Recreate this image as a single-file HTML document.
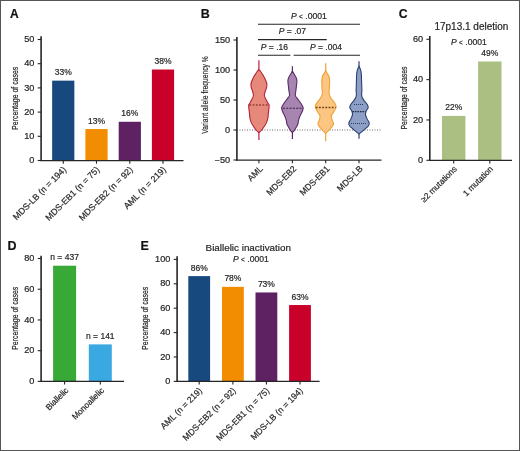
<!DOCTYPE html>
<html><head><meta charset="utf-8"><style>
html,body{margin:0;padding:0;background:#fff;}
svg{display:block;will-change:transform;}
text{font-family:"Liberation Sans", sans-serif;stroke:#262626;stroke-width:0.2px;}
</style></head><body>
<svg width="520" height="451" viewBox="0 0 520 451" font-family='"Liberation Sans", sans-serif'>
<rect x="0" y="0" width="520" height="451" fill="#fff"/>
<text x="10.00" y="18.00" font-size="12" text-anchor="start" fill="#111" font-weight="bold" font-style="normal" >A</text>
<rect x="52.15" y="80.64" width="22.20" height="79.86" fill="#17497f"/>
<text x="63.25" y="75.14" font-size="8.5" text-anchor="middle" fill="#262626" font-weight="normal" font-style="normal" >33%</text>
<rect x="85.40" y="129.04" width="22.20" height="31.46" fill="#f28c00"/>
<text x="96.50" y="123.54" font-size="8.5" text-anchor="middle" fill="#262626" font-weight="normal" font-style="normal" >13%</text>
<rect x="118.70" y="121.78" width="22.20" height="38.72" fill="#5e2162"/>
<text x="129.80" y="116.28" font-size="8.5" text-anchor="middle" fill="#262626" font-weight="normal" font-style="normal" >16%</text>
<rect x="151.90" y="69.51" width="22.20" height="90.99" fill="#c8002a"/>
<text x="163.00" y="64.01" font-size="8.5" text-anchor="middle" fill="#262626" font-weight="normal" font-style="normal" >38%</text>
<line x1="41.10" y1="36.30" x2="41.10" y2="161.12" stroke="#262626" stroke-width="1.6"/>
<line x1="37.70" y1="39.50" x2="41.10" y2="39.50" stroke="#262626" stroke-width="1.1" />
<text transform="translate(34.40 42.10) scale(1.08 1)" font-size="8.5" text-anchor="end" fill="#262626" font-weight="normal" font-style="normal" >50</text>
<line x1="37.70" y1="63.70" x2="41.10" y2="63.70" stroke="#262626" stroke-width="1.1" />
<text transform="translate(34.40 66.30) scale(1.08 1)" font-size="8.5" text-anchor="end" fill="#262626" font-weight="normal" font-style="normal" >40</text>
<line x1="37.70" y1="87.90" x2="41.10" y2="87.90" stroke="#262626" stroke-width="1.1" />
<text transform="translate(34.40 90.50) scale(1.08 1)" font-size="8.5" text-anchor="end" fill="#262626" font-weight="normal" font-style="normal" >30</text>
<line x1="37.70" y1="112.10" x2="41.10" y2="112.10" stroke="#262626" stroke-width="1.1" />
<text transform="translate(34.40 114.70) scale(1.08 1)" font-size="8.5" text-anchor="end" fill="#262626" font-weight="normal" font-style="normal" >20</text>
<line x1="37.70" y1="136.30" x2="41.10" y2="136.30" stroke="#262626" stroke-width="1.1" />
<text transform="translate(34.40 138.90) scale(1.08 1)" font-size="8.5" text-anchor="end" fill="#262626" font-weight="normal" font-style="normal" >10</text>
<line x1="37.70" y1="160.50" x2="41.10" y2="160.50" stroke="#262626" stroke-width="1.1" />
<text transform="translate(34.40 163.10) scale(1.08 1)" font-size="8.5" text-anchor="end" fill="#262626" font-weight="normal" font-style="normal" >0</text>
<line x1="40.30" y1="160.50" x2="183.50" y2="160.50" stroke="#262626" stroke-width="1.25" />
<line x1="63.25" y1="160.50" x2="63.25" y2="163.70" stroke="#262626" stroke-width="1.1" />
<line x1="96.50" y1="160.50" x2="96.50" y2="163.70" stroke="#262626" stroke-width="1.1" />
<line x1="129.80" y1="160.50" x2="129.80" y2="163.70" stroke="#262626" stroke-width="1.1" />
<line x1="163.00" y1="160.50" x2="163.00" y2="163.70" stroke="#262626" stroke-width="1.1" />
<text class="rt" id="rt1" transform="translate(18.00 98.30) rotate(-90) scale(0.77 1)" font-size="9" text-anchor="middle" fill="#262626">Percentage of cases</text>
<text class="rt" id="rt2" transform="translate(66.85 170.20) rotate(-45) scale(1.0 1)" font-size="8.8" text-anchor="end" fill="#262626">MDS-LB (n = 194)</text>
<text class="rt" id="rt3" transform="translate(100.10 170.20) rotate(-45) scale(1.0 1)" font-size="8.8" text-anchor="end" fill="#262626">MDS-EB1 (n = 75)</text>
<text class="rt" id="rt4" transform="translate(133.40 170.20) rotate(-45) scale(1.0 1)" font-size="8.8" text-anchor="end" fill="#262626">MDS-EB2 (n = 92)</text>
<text class="rt" id="rt5" transform="translate(166.60 170.20) rotate(-45) scale(1.0 1)" font-size="8.8" text-anchor="end" fill="#262626">AML (n = 219)</text>
<text x="200.70" y="18.30" font-size="12.5" text-anchor="start" fill="#111" font-weight="bold" font-style="normal" >B</text>
<line x1="237.00" y1="130.00" x2="381.50" y2="130.00" stroke="#555" stroke-width="0.9" stroke-dasharray="1 1.5"/>
<line x1="258.90" y1="60.20" x2="258.90" y2="70.60" stroke="#b5223a" stroke-width="1.2" />
<line x1="258.90" y1="131.60" x2="258.90" y2="140.00" stroke="#b5223a" stroke-width="1.2" />
<path d="M258.90,69.60 C259.20,69.92 260.17,70.82 260.70,71.50 C261.23,72.18 261.45,72.63 262.10,73.70 C262.75,74.77 263.83,76.33 264.60,77.90 C265.37,79.47 266.37,81.53 266.70,83.10 C267.03,84.67 266.85,85.90 266.60,87.30 C266.35,88.70 265.57,90.10 265.20,91.50 C264.83,92.90 264.23,94.32 264.40,95.70 C264.57,97.08 265.63,98.58 266.20,99.80 C266.77,101.02 267.32,102.13 267.80,103.00 C268.28,103.87 268.92,104.07 269.10,105.00 C269.28,105.93 269.03,107.13 268.90,108.60 C268.77,110.07 268.47,112.23 268.30,113.80 C268.13,115.37 268.17,116.62 267.90,118.00 C267.63,119.38 267.28,120.72 266.70,122.10 C266.12,123.48 265.30,124.90 264.40,126.30 C263.50,127.70 262.22,129.45 261.30,130.50 C260.38,131.55 259.30,132.25 258.90,132.60 C258.50,132.25 257.42,131.55 256.50,130.50 C255.58,129.45 254.30,127.70 253.40,126.30 C252.50,124.90 251.68,123.48 251.10,122.10 C250.52,120.72 250.17,119.38 249.90,118.00 C249.63,116.62 249.67,115.37 249.50,113.80 C249.33,112.23 249.03,110.07 248.90,108.60 C248.77,107.13 248.52,105.93 248.70,105.00 C248.88,104.07 249.52,103.87 250.00,103.00 C250.48,102.13 251.03,101.02 251.60,99.80 C252.17,98.58 253.23,97.08 253.40,95.70 C253.57,94.32 252.97,92.90 252.60,91.50 C252.23,90.10 251.45,88.70 251.20,87.30 C250.95,85.90 250.77,84.67 251.10,83.10 C251.43,81.53 252.43,79.47 253.20,77.90 C253.97,76.33 255.05,74.77 255.70,73.70 C256.35,72.63 256.57,72.18 257.10,71.50 C257.63,70.82 258.60,69.92 258.90,69.60Z" fill="#e6887a" stroke="#b5223a" stroke-width="1.1"/>
<line x1="249.30" y1="105.0" x2="268.50" y2="105.0" stroke="#6a1818" stroke-width="1.2" stroke-dasharray="1.8 1.5"/>
<line x1="292.40" y1="66.30" x2="292.40" y2="72.00" stroke="#5a2a68" stroke-width="1.2" />
<line x1="292.40" y1="131.40" x2="292.40" y2="139.10" stroke="#5a2a68" stroke-width="1.2" />
<path d="M292.40,71.00 C292.73,71.60 293.77,73.48 294.40,74.60 C295.03,75.72 295.78,76.65 296.20,77.70 C296.62,78.75 296.87,79.50 296.90,80.90 C296.93,82.30 296.58,84.37 296.40,86.10 C296.22,87.83 295.98,89.73 295.80,91.30 C295.62,92.87 295.03,94.28 295.30,95.50 C295.57,96.72 296.53,97.38 297.40,98.60 C298.27,99.82 299.63,101.48 300.50,102.80 C301.37,104.12 302.15,105.57 302.60,106.50 C303.05,107.43 303.33,107.40 303.20,108.40 C303.07,109.40 302.38,111.12 301.80,112.50 C301.22,113.88 300.27,115.30 299.70,116.70 C299.13,118.10 298.70,119.68 298.40,120.90 C298.10,122.12 298.25,122.97 297.90,124.00 C297.55,125.03 296.88,126.05 296.30,127.10 C295.72,128.15 295.05,129.42 294.40,130.30 C293.75,131.18 292.73,132.05 292.40,132.40 C292.07,132.05 291.05,131.18 290.40,130.30 C289.75,129.42 289.08,128.15 288.50,127.10 C287.92,126.05 287.25,125.03 286.90,124.00 C286.55,122.97 286.70,122.12 286.40,120.90 C286.10,119.68 285.67,118.10 285.10,116.70 C284.53,115.30 283.58,113.88 283.00,112.50 C282.42,111.12 281.73,109.40 281.60,108.40 C281.47,107.40 281.75,107.43 282.20,106.50 C282.65,105.57 283.43,104.12 284.30,102.80 C285.17,101.48 286.53,99.82 287.40,98.60 C288.27,97.38 289.23,96.72 289.50,95.50 C289.77,94.28 289.18,92.87 289.00,91.30 C288.82,89.73 288.58,87.83 288.40,86.10 C288.22,84.37 287.87,82.30 287.90,80.90 C287.93,79.50 288.18,78.75 288.60,77.70 C289.02,76.65 289.77,75.72 290.40,74.60 C291.03,73.48 292.07,71.60 292.40,71.00Z" fill="#a685b0" stroke="#5a2a68" stroke-width="1.1"/>
<line x1="283.00" y1="108.2" x2="301.80" y2="108.2" stroke="#3a1a40" stroke-width="1.1" stroke-dasharray="2 1.3"/>
<line x1="325.70" y1="63.20" x2="325.70" y2="71.50" stroke="#eea235" stroke-width="1.2" />
<line x1="325.70" y1="132.40" x2="325.70" y2="141.20" stroke="#eea235" stroke-width="1.2" />
<path d="M325.70,70.50 C326.00,71.03 326.93,72.65 327.50,73.70 C328.07,74.75 328.75,75.58 329.10,76.80 C329.45,78.02 329.55,79.27 329.60,81.00 C329.65,82.73 329.48,85.12 329.40,87.20 C329.32,89.28 328.88,91.75 329.10,93.50 C329.32,95.25 329.92,96.32 330.70,97.70 C331.48,99.08 333.02,100.67 333.80,101.80 C334.58,102.93 335.02,103.58 335.40,104.50 C335.78,105.42 336.33,106.13 336.10,107.30 C335.87,108.47 334.78,110.10 334.00,111.50 C333.22,112.90 331.73,114.32 331.40,115.70 C331.07,117.08 331.65,118.42 332.00,119.80 C332.35,121.18 333.55,122.78 333.50,124.00 C333.45,125.22 332.48,126.05 331.70,127.10 C330.92,128.15 329.80,129.25 328.80,130.30 C327.80,131.35 326.22,132.88 325.70,133.40 C325.18,132.88 323.60,131.35 322.60,130.30 C321.60,129.25 320.48,128.15 319.70,127.10 C318.92,126.05 317.95,125.22 317.90,124.00 C317.85,122.78 319.05,121.18 319.40,119.80 C319.75,118.42 320.33,117.08 320.00,115.70 C319.67,114.32 318.18,112.90 317.40,111.50 C316.62,110.10 315.53,108.47 315.30,107.30 C315.07,106.13 315.62,105.42 316.00,104.50 C316.38,103.58 316.82,102.93 317.60,101.80 C318.38,100.67 319.92,99.08 320.70,97.70 C321.48,96.32 322.08,95.25 322.30,93.50 C322.52,91.75 322.08,89.28 322.00,87.20 C321.92,85.12 321.75,82.73 321.80,81.00 C321.85,79.27 321.95,78.02 322.30,76.80 C322.65,75.58 323.33,74.75 323.90,73.70 C324.47,72.65 325.40,71.03 325.70,70.50Z" fill="#fcc582" stroke="#eea235" stroke-width="1.1"/>
<line x1="315.80" y1="107.5" x2="335.60" y2="107.5" stroke="#6a4212" stroke-width="1.4" stroke-dasharray="1.8 1.4"/>
<line x1="359.00" y1="61.20" x2="359.00" y2="67.40" stroke="#2a3f70" stroke-width="1.2" />
<line x1="359.00" y1="133.00" x2="359.00" y2="138.70" stroke="#2a3f70" stroke-width="1.2" />
<path d="M359.00,66.40 C359.25,66.93 360.12,68.38 360.50,69.60 C360.88,70.82 361.13,72.13 361.30,73.70 C361.47,75.27 361.43,77.08 361.50,79.00 C361.57,80.92 361.63,83.30 361.70,85.20 C361.77,87.10 361.92,88.83 361.90,90.40 C361.88,91.97 361.53,93.37 361.60,94.60 C361.67,95.83 361.82,96.72 362.30,97.80 C362.78,98.88 363.70,100.02 364.50,101.10 C365.30,102.18 366.48,103.25 367.10,104.30 C367.72,105.35 368.25,106.45 368.20,107.40 C368.15,108.35 367.17,109.30 366.80,110.00 C366.43,110.70 366.22,110.82 366.00,111.60 C365.78,112.38 365.32,113.48 365.50,114.70 C365.68,115.92 366.48,117.50 367.10,118.90 C367.72,120.30 369.03,121.88 369.20,123.10 C369.37,124.32 368.85,125.17 368.10,126.20 C367.35,127.23 365.88,128.27 364.70,129.30 C363.52,130.33 361.95,131.62 361.00,132.40 C360.05,133.18 359.33,133.73 359.00,134.00 C358.67,133.73 357.95,133.18 357.00,132.40 C356.05,131.62 354.48,130.33 353.30,129.30 C352.12,128.27 350.65,127.23 349.90,126.20 C349.15,125.17 348.63,124.32 348.80,123.10 C348.97,121.88 350.28,120.30 350.90,118.90 C351.52,117.50 352.32,115.92 352.50,114.70 C352.68,113.48 352.22,112.38 352.00,111.60 C351.78,110.82 351.57,110.70 351.20,110.00 C350.83,109.30 349.85,108.35 349.80,107.40 C349.75,106.45 350.28,105.35 350.90,104.30 C351.52,103.25 352.70,102.18 353.50,101.10 C354.30,100.02 355.22,98.88 355.70,97.80 C356.18,96.72 356.33,95.83 356.40,94.60 C356.47,93.37 356.12,91.97 356.10,90.40 C356.08,88.83 356.23,87.10 356.30,85.20 C356.37,83.30 356.43,80.92 356.50,79.00 C356.57,77.08 356.53,75.27 356.70,73.70 C356.87,72.13 357.12,70.82 357.50,69.60 C357.88,68.38 358.75,66.93 359.00,66.40Z" fill="#8e9fc5" stroke="#2a3f70" stroke-width="1.1"/>
<line x1="354.00" y1="104.5" x2="364.00" y2="104.5" stroke="#1f2f55" stroke-width="0.9" stroke-dasharray="1 1"/>
<line x1="352.40" y1="111.6" x2="365.60" y2="111.6" stroke="#1a2440" stroke-width="1.3" stroke-dasharray="1.5 1"/>
<line x1="351.00" y1="123.5" x2="367.00" y2="123.5" stroke="#1f2f55" stroke-width="0.9" stroke-dasharray="1 1"/>
<line x1="236.90" y1="37.00" x2="236.90" y2="160.62" stroke="#262626" stroke-width="1.6"/>
<line x1="233.50" y1="40.00" x2="236.90" y2="40.00" stroke="#262626" stroke-width="1.1" />
<text transform="translate(230.20 42.60) scale(1.08 1)" font-size="8.5" text-anchor="end" fill="#262626" font-weight="normal" font-style="normal" >150</text>
<line x1="233.50" y1="70.00" x2="236.90" y2="70.00" stroke="#262626" stroke-width="1.1" />
<text transform="translate(230.20 72.60) scale(1.08 1)" font-size="8.5" text-anchor="end" fill="#262626" font-weight="normal" font-style="normal" >100</text>
<line x1="233.50" y1="100.00" x2="236.90" y2="100.00" stroke="#262626" stroke-width="1.1" />
<text transform="translate(230.20 102.60) scale(1.08 1)" font-size="8.5" text-anchor="end" fill="#262626" font-weight="normal" font-style="normal" >50</text>
<line x1="233.50" y1="130.00" x2="236.90" y2="130.00" stroke="#262626" stroke-width="1.1" />
<text transform="translate(230.20 132.60) scale(1.08 1)" font-size="8.5" text-anchor="end" fill="#262626" font-weight="normal" font-style="normal" >0</text>
<line x1="233.50" y1="160.00" x2="236.90" y2="160.00" stroke="#262626" stroke-width="1.1" />
<text transform="translate(230.20 162.60) scale(1.08 1)" font-size="8.5" text-anchor="end" fill="#262626" font-weight="normal" font-style="normal" >−50</text>
<line x1="236.10" y1="160.00" x2="381.50" y2="160.00" stroke="#262626" stroke-width="1.25" />
<line x1="258.90" y1="160.00" x2="258.90" y2="163.20" stroke="#262626" stroke-width="1.1" />
<line x1="292.40" y1="160.00" x2="292.40" y2="163.20" stroke="#262626" stroke-width="1.1" />
<line x1="325.70" y1="160.00" x2="325.70" y2="163.20" stroke="#262626" stroke-width="1.1" />
<line x1="359.00" y1="160.00" x2="359.00" y2="163.20" stroke="#262626" stroke-width="1.1" />
<text class="rt" id="rt6" transform="translate(208.20 95.00) rotate(-90) scale(0.722 1)" font-size="9.3" text-anchor="middle" fill="#262626">Variant allele frequency %</text>
<text class="rt" id="rt7" transform="translate(263.30 169.30) rotate(-45) scale(0.97 1)" font-size="8.8" text-anchor="end" fill="#262626">AML</text>
<text class="rt" id="rt8" transform="translate(296.80 169.30) rotate(-45) scale(0.97 1)" font-size="8.8" text-anchor="end" fill="#262626">MDS-EB2</text>
<text class="rt" id="rt9" transform="translate(330.10 169.30) rotate(-45) scale(0.97 1)" font-size="8.8" text-anchor="end" fill="#262626">MDS-EB1</text>
<text class="rt" id="rt10" transform="translate(363.40 169.30) rotate(-45) scale(0.97 1)" font-size="8.8" text-anchor="end" fill="#262626">MDS-LB</text>
<line x1="258.00" y1="24.20" x2="360.00" y2="24.20" stroke="#262626" stroke-width="1.1" />
<line x1="258.00" y1="39.60" x2="326.70" y2="39.60" stroke="#262626" stroke-width="1.1" />
<line x1="258.00" y1="55.20" x2="290.40" y2="55.20" stroke="#262626" stroke-width="1.1" />
<line x1="293.60" y1="55.20" x2="360.00" y2="55.20" stroke="#262626" stroke-width="1.1" />
<text x="291" y="19.3" font-size="8.5" fill="#262626" font-style="italic">P</text>
<text x="299.00" y="19.30" font-size="6.4" fill="#262626">&lt;</text>
<text x="305.30" y="19.30" font-size="8.5" fill="#262626" textLength="21.6" lengthAdjust="spacingAndGlyphs">.0001</text>
<text x="278.8" y="34.0" font-size="8.5" text-anchor="start" fill="#262626"><tspan font-style="italic">P</tspan> = .07</text>
<text x="260.8" y="50.2" font-size="8.5" text-anchor="start" fill="#262626"><tspan font-style="italic">P</tspan> = .16</text>
<text x="310" y="50.2" font-size="8.5" text-anchor="start" fill="#262626"><tspan font-style="italic">P</tspan> = .004</text>
<text x="398.80" y="18.10" font-size="12.2" text-anchor="start" fill="#111" font-weight="bold" font-style="normal" >C</text>
<text x="434.40" y="30.00" font-size="10" text-anchor="start" fill="#262626" font-weight="normal" font-style="normal" >17p13.1 deletion</text>
<text x="451" y="45.3" font-size="8.5" fill="#262626" font-style="italic">P</text>
<text x="459.00" y="45.30" font-size="6.4" fill="#262626">&lt;</text>
<text x="465.30" y="45.30" font-size="8.5" fill="#262626" textLength="21.6" lengthAdjust="spacingAndGlyphs">.0001</text>
<rect x="442.00" y="115.93" width="23.40" height="44.37" fill="#acbf82"/>
<text x="453.70" y="110.43" font-size="8.5" text-anchor="middle" fill="#262626" font-weight="normal" font-style="normal" >22%</text>
<rect x="478.10" y="61.48" width="23.40" height="98.82" fill="#acbf82"/>
<text x="489.80" y="55.98" font-size="8.5" text-anchor="middle" fill="#262626" font-weight="normal" font-style="normal" >49%</text>
<line x1="429.80" y1="36.10" x2="429.80" y2="160.93" stroke="#262626" stroke-width="1.6"/>
<line x1="426.40" y1="39.30" x2="429.80" y2="39.30" stroke="#262626" stroke-width="1.1" />
<text transform="translate(423.10 41.90) scale(1.08 1)" font-size="8.5" text-anchor="end" fill="#262626" font-weight="normal" font-style="normal" >60</text>
<line x1="426.40" y1="79.63" x2="429.80" y2="79.63" stroke="#262626" stroke-width="1.1" />
<text transform="translate(423.10 82.23) scale(1.08 1)" font-size="8.5" text-anchor="end" fill="#262626" font-weight="normal" font-style="normal" >40</text>
<line x1="426.40" y1="119.97" x2="429.80" y2="119.97" stroke="#262626" stroke-width="1.1" />
<text transform="translate(423.10 122.57) scale(1.08 1)" font-size="8.5" text-anchor="end" fill="#262626" font-weight="normal" font-style="normal" >20</text>
<line x1="426.40" y1="160.30" x2="429.80" y2="160.30" stroke="#262626" stroke-width="1.1" />
<text transform="translate(423.10 162.90) scale(1.08 1)" font-size="8.5" text-anchor="end" fill="#262626" font-weight="normal" font-style="normal" >0</text>
<line x1="429.00" y1="160.30" x2="512.00" y2="160.30" stroke="#262626" stroke-width="1.25" />
<line x1="453.70" y1="160.30" x2="453.70" y2="163.50" stroke="#262626" stroke-width="1.1" />
<line x1="489.80" y1="160.30" x2="489.80" y2="163.50" stroke="#262626" stroke-width="1.1" />
<text class="rt" id="rt11" transform="translate(406.60 98.00) rotate(-90) scale(0.77 1)" font-size="9" text-anchor="middle" fill="#262626">Percentage of cases</text>
<text class="rt" id="rt12" transform="translate(457.50 169.50) rotate(-45) scale(0.97 1)" font-size="8.5" text-anchor="end" fill="#262626">≥2 mutations</text>
<text class="rt" id="rt13" transform="translate(493.60 169.50) rotate(-45) scale(0.97 1)" font-size="8.5" text-anchor="end" fill="#262626">1 mutation</text>
<text x="7.60" y="250.10" font-size="12.5" text-anchor="start" fill="#111" font-weight="bold" font-style="normal" >D</text>
<rect x="53.10" y="265.72" width="23.00" height="115.68" fill="#38a936"/>
<text x="64.60" y="260.22" font-size="8.5" text-anchor="middle" fill="#262626" font-weight="normal" font-style="normal" >n = 437</text>
<rect x="88.80" y="344.38" width="23.00" height="37.02" fill="#3aa9e2"/>
<text x="100.30" y="338.88" font-size="8.5" text-anchor="middle" fill="#262626" font-weight="normal" font-style="normal" >n = 141</text>
<line x1="41.10" y1="255.80" x2="41.10" y2="382.02" stroke="#262626" stroke-width="1.6"/>
<line x1="37.70" y1="258.50" x2="41.10" y2="258.50" stroke="#262626" stroke-width="1.1" />
<text transform="translate(34.40 261.10) scale(1.08 1)" font-size="8.5" text-anchor="end" fill="#262626" font-weight="normal" font-style="normal" >80</text>
<line x1="37.70" y1="289.23" x2="41.10" y2="289.23" stroke="#262626" stroke-width="1.1" />
<text transform="translate(34.40 291.83) scale(1.08 1)" font-size="8.5" text-anchor="end" fill="#262626" font-weight="normal" font-style="normal" >60</text>
<line x1="37.70" y1="319.95" x2="41.10" y2="319.95" stroke="#262626" stroke-width="1.1" />
<text transform="translate(34.40 322.55) scale(1.08 1)" font-size="8.5" text-anchor="end" fill="#262626" font-weight="normal" font-style="normal" >40</text>
<line x1="37.70" y1="350.67" x2="41.10" y2="350.67" stroke="#262626" stroke-width="1.1" />
<text transform="translate(34.40 353.27) scale(1.08 1)" font-size="8.5" text-anchor="end" fill="#262626" font-weight="normal" font-style="normal" >20</text>
<line x1="37.70" y1="381.40" x2="41.10" y2="381.40" stroke="#262626" stroke-width="1.1" />
<text transform="translate(34.40 384.00) scale(1.08 1)" font-size="8.5" text-anchor="end" fill="#262626" font-weight="normal" font-style="normal" >0</text>
<line x1="40.30" y1="381.40" x2="124.00" y2="381.40" stroke="#262626" stroke-width="1.25" />
<line x1="64.60" y1="381.40" x2="64.60" y2="384.60" stroke="#262626" stroke-width="1.1" />
<line x1="100.30" y1="381.40" x2="100.30" y2="384.60" stroke="#262626" stroke-width="1.1" />
<text class="rt" id="rt14" transform="translate(18.00 318.30) rotate(-90) scale(0.77 1)" font-size="9" text-anchor="middle" fill="#262626">Percentage of cases</text>
<text class="rt" id="rt15" transform="translate(68.90 391.00) rotate(-45) scale(0.97 1)" font-size="8.5" text-anchor="end" fill="#262626">Biallelic</text>
<text class="rt" id="rt16" transform="translate(104.60 391.00) rotate(-45) scale(0.97 1)" font-size="8.5" text-anchor="end" fill="#262626">Monoallelic</text>
<text x="140.50" y="250.10" font-size="12.5" text-anchor="start" fill="#111" font-weight="bold" font-style="normal" >E</text>
<text x="205.60" y="250.60" font-size="9.85" text-anchor="start" fill="#262626" font-weight="normal" font-style="normal" >Biallelic inactivation</text>
<text x="233" y="262.1" font-size="8.5" fill="#262626" font-style="italic">P</text>
<text x="241.00" y="262.10" font-size="6.4" fill="#262626">&lt;</text>
<text x="247.30" y="262.10" font-size="8.5" fill="#262626" textLength="21.6" lengthAdjust="spacingAndGlyphs">.0001</text>
<rect x="188.30" y="276.11" width="21.80" height="105.29" fill="#17497f"/>
<text x="199.20" y="270.61" font-size="8.5" text-anchor="middle" fill="#262626" font-weight="normal" font-style="normal" >86%</text>
<rect x="222.00" y="286.85" width="21.80" height="94.55" fill="#f28c00"/>
<text x="232.90" y="281.35" font-size="8.5" text-anchor="middle" fill="#262626" font-weight="normal" font-style="normal" >78%</text>
<rect x="255.50" y="292.46" width="21.80" height="88.94" fill="#5e2162"/>
<text x="266.40" y="286.96" font-size="8.5" text-anchor="middle" fill="#262626" font-weight="normal" font-style="normal" >73%</text>
<rect x="289.10" y="305.03" width="21.80" height="76.37" fill="#c8002a"/>
<text x="300.00" y="299.53" font-size="8.5" text-anchor="middle" fill="#262626" font-weight="normal" font-style="normal" >63%</text>
<line x1="177.10" y1="256.20" x2="177.10" y2="382.02" stroke="#262626" stroke-width="1.6"/>
<line x1="173.70" y1="259.40" x2="177.10" y2="259.40" stroke="#262626" stroke-width="1.1" />
<text transform="translate(170.40 262.00) scale(1.08 1)" font-size="8.5" text-anchor="end" fill="#262626" font-weight="normal" font-style="normal" >100</text>
<line x1="173.70" y1="283.80" x2="177.10" y2="283.80" stroke="#262626" stroke-width="1.1" />
<text transform="translate(170.40 286.40) scale(1.08 1)" font-size="8.5" text-anchor="end" fill="#262626" font-weight="normal" font-style="normal" >80</text>
<line x1="173.70" y1="308.20" x2="177.10" y2="308.20" stroke="#262626" stroke-width="1.1" />
<text transform="translate(170.40 310.80) scale(1.08 1)" font-size="8.5" text-anchor="end" fill="#262626" font-weight="normal" font-style="normal" >60</text>
<line x1="173.70" y1="332.60" x2="177.10" y2="332.60" stroke="#262626" stroke-width="1.1" />
<text transform="translate(170.40 335.20) scale(1.08 1)" font-size="8.5" text-anchor="end" fill="#262626" font-weight="normal" font-style="normal" >40</text>
<line x1="173.70" y1="357.00" x2="177.10" y2="357.00" stroke="#262626" stroke-width="1.1" />
<text transform="translate(170.40 359.60) scale(1.08 1)" font-size="8.5" text-anchor="end" fill="#262626" font-weight="normal" font-style="normal" >20</text>
<line x1="173.70" y1="381.40" x2="177.10" y2="381.40" stroke="#262626" stroke-width="1.1" />
<text transform="translate(170.40 384.00) scale(1.08 1)" font-size="8.5" text-anchor="end" fill="#262626" font-weight="normal" font-style="normal" >0</text>
<line x1="176.30" y1="381.40" x2="319.60" y2="381.40" stroke="#262626" stroke-width="1.25" />
<line x1="199.20" y1="381.40" x2="199.20" y2="384.60" stroke="#262626" stroke-width="1.1" />
<line x1="232.90" y1="381.40" x2="232.90" y2="384.60" stroke="#262626" stroke-width="1.1" />
<line x1="266.40" y1="381.40" x2="266.40" y2="384.60" stroke="#262626" stroke-width="1.1" />
<line x1="300.00" y1="381.40" x2="300.00" y2="384.60" stroke="#262626" stroke-width="1.1" />
<text class="rt" id="rt17" transform="translate(148.40 318.30) rotate(-90) scale(0.77 1)" font-size="9" text-anchor="middle" fill="#262626">Percentage of cases</text>
<text class="rt" id="rt18" transform="translate(202.60 391.30) rotate(-45) scale(0.98 1)" font-size="8.8" text-anchor="end" fill="#262626">AML (n = 219)</text>
<text class="rt" id="rt19" transform="translate(236.30 391.30) rotate(-45) scale(0.98 1)" font-size="8.8" text-anchor="end" fill="#262626">MDS-EB2 (n = 92)</text>
<text class="rt" id="rt20" transform="translate(269.80 391.30) rotate(-45) scale(0.98 1)" font-size="8.8" text-anchor="end" fill="#262626">MDS-EB1 (n = 75)</text>
<text class="rt" id="rt21" transform="translate(303.40 391.30) rotate(-45) scale(0.98 1)" font-size="8.8" text-anchor="end" fill="#262626">MDS-LB (n = 194)</text>
<rect x="0.5" y="0.5" width="519" height="450" fill="none" stroke="#555" stroke-width="1"/>
</svg>
</body></html>
